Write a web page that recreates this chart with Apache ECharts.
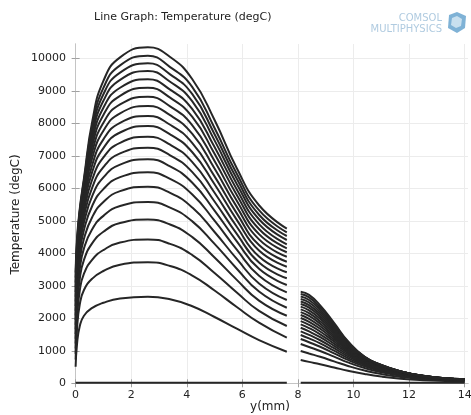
<!DOCTYPE html>
<html>
<head>
<meta charset="utf-8">
<title>Line Graph: Temperature (degC)</title>
<script src="https://cdn.jsdelivr.net/npm/echarts@6.0.0/dist/echarts.min.js"></script>
<style>
  html, body { margin: 0; padding: 0; background: #fff; }
  #chart { width: 471px; height: 415px; }
</style>
</head>
<body>
<div id="chart"></div>
<script>
// y positions (mm) where the temperature was read, left and right domain
const LEFT_X = [0, 0.05, 0.15, 0.3, 0.6, 1.0, 1.6, 2.6, 3.4, 4.2, 5.0, 5.8, 6.6, 7.6];
const RIGHT_X = [8.1, 8.4, 8.8, 9.3, 9.8, 10.4, 11, 11.7, 12.5, 13.3, 14.0];

// initial state (degC), flat over both domains
const INITIAL_LEFT = [[0, 20], [7.6, 20]];
const INITIAL_RIGHT = [[8.1, 20], [14, 20]];

// one row per time step, values at LEFT_X
const leftTemps = [
  [510, 1200, 1760, 2080, 2320, 2480, 2610, 2665, 2585, 2370, 2040, 1680, 1330, 972],
  [735, 1671, 2430, 2871, 3221, 3456, 3647, 3723, 3610, 3316, 2855, 2347, 1867, 1403],
  [906, 1982, 2855, 3372, 3808, 4101, 4332, 4425, 4290, 3945, 3396, 2793, 2227, 1763],
  [1069, 2252, 3215, 3796, 4313, 4663, 4931, 5040, 4885, 4498, 3872, 3183, 2544, 2080],
  [1224, 2487, 3517, 4151, 4747, 5152, 5455, 5578, 5405, 4982, 4289, 3526, 2824, 2326],
  [1372, 2690, 3770, 4448, 5119, 5578, 5912, 6049, 5860, 5408, 4656, 3827, 3072, 2563],
  [1520, 2880, 3998, 4715, 5464, 5976, 6342, 6492, 6287, 5809, 5002, 4110, 3307, 2800],
  [1665, 3051, 4193, 4944, 5768, 6334, 6729, 6892, 6673, 6172, 5315, 4367, 3522, 3025],
  [1805, 3201, 4357, 5135, 6032, 6650, 7073, 7249, 7016, 6498, 5595, 4597, 3716, 3231],
  [1945, 3343, 4505, 5308, 6278, 6949, 7400, 7588, 7342, 6807, 5863, 4816, 3902, 3415],
  [2088, 3479, 4642, 5467, 6513, 7238, 7717, 7917, 7659, 7109, 6123, 5030, 4084, 3588],
  [2229, 3606, 4762, 5606, 6727, 7506, 8013, 8225, 7955, 7391, 6367, 5229, 4255, 3742],
  [2375, 3732, 4877, 5739, 6938, 7773, 8308, 8532, 8249, 7674, 6611, 5429, 4428, 3895],
  [2520, 3847, 4975, 5852, 7129, 8020, 8581, 8818, 8523, 7938, 6839, 5615, 4590, 4031],
  [2666, 3959, 5064, 5955, 7310, 8257, 8846, 9095, 8789, 8195, 7060, 5797, 4748, 4154],
  [2811, 4062, 5140, 6041, 7473, 8478, 9093, 9354, 9037, 8436, 7269, 5967, 4899, 4277],
  [2959, 4163, 5209, 6119, 7632, 8693, 9336, 9609, 9280, 8673, 7474, 6134, 5047, 4409],
  [3104, 4254, 5265, 6182, 7773, 8893, 9561, 9846, 9506, 8895, 7665, 6291, 5187, 4532],
  [3252, 4345, 5316, 6239, 7910, 9088, 9783, 10080, 9730, 9114, 7855, 6446, 5326, 4646],
  [3412, 4445, 5376, 6306, 8064, 9304, 10028, 10338, 10040, 9356, 8100, 6616, 5479, 4760]
];

// same time steps, values at RIGHT_X
const rightTemps = [
  [717, 660, 588, 488, 387, 287, 208, 143, 97, 72, 57],
  [994, 917, 817, 675, 533, 392, 284, 195, 131, 97, 77],
  [1209, 1118, 995, 820, 643, 470, 339, 233, 156, 115, 92],
  [1363, 1264, 1124, 922, 719, 521, 376, 257, 172, 126, 100],
  [1486, 1381, 1228, 1004, 777, 560, 403, 275, 183, 133, 106],
  [1600, 1491, 1325, 1080, 830, 594, 426, 291, 193, 139, 111],
  [1710, 1597, 1418, 1152, 880, 625, 447, 304, 201, 144, 115],
  [1815, 1700, 1508, 1221, 927, 652, 466, 316, 208, 148, 118],
  [1915, 1798, 1594, 1286, 970, 677, 483, 327, 214, 151, 121],
  [2010, 1892, 1677, 1348, 1009, 699, 497, 335, 219, 153, 123],
  [2100, 1982, 1755, 1406, 1046, 718, 509, 343, 223, 155, 124],
  [2190, 2072, 1834, 1464, 1081, 737, 521, 349, 226, 156, 124],
  [2275, 2158, 1909, 1518, 1114, 752, 531, 354, 228, 156, 124],
  [2360, 2244, 1984, 1572, 1145, 766, 539, 359, 230, 155, 124],
  [2440, 2326, 2055, 1623, 1174, 778, 546, 362, 231, 154, 123],
  [2520, 2408, 2126, 1674, 1202, 789, 552, 365, 231, 152, 122],
  [2595, 2486, 2194, 1721, 1226, 798, 556, 366, 230, 150, 120],
  [2670, 2564, 2261, 1768, 1251, 805, 559, 367, 229, 148, 118],
  [2745, 2642, 2329, 1815, 1274, 812, 562, 367, 228, 144, 116],
  [2818, 2719, 2395, 1860, 1296, 817, 564, 366, 225, 141, 113]
];

const xTicks = [0, 2, 4, 6, 8, 10, 12, 14];
const yTicks = [0, 1000, 2000, 3000, 4000, 5000, 6000, 7000, 8000, 9000, 10000];

const LINE_COLOR = '#262626';
const FONT = 'DejaVu Sans';

let myChart = echarts.init(document.getElementById('chart'));

let series = [];
function addLine(points) {
  series.push({
    type: 'line',
    data: points,
    showSymbol: false,
    smooth: 0.5,
    silent: true,
    lineStyle: { color: LINE_COLOR, width: 2 }
  });
}
leftTemps.forEach(function (row) {
  addLine(LEFT_X.map(function (x, k) { return [x, row[k]]; }));
});
rightTemps.forEach(function (row) {
  addLine(RIGHT_X.map(function (x, k) { return [x, row[k]]; }));
});
addLine(INITIAL_LEFT);
addLine(INITIAL_RIGHT);

const frameLine = { show: true, lineStyle: { color: '#c4c4c4', width: 1 } };
const innerTick = { show: true, inside: true, length: 4, lineStyle: { color: '#a0a0a0' } };
const plainNumber = function (v) { return String(v); };

let option = {
  animation: false,
  backgroundColor: '#fff',
  title: {
    text: 'Line Graph: Temperature (degC)',
    left: 89,
    top: 7,
    textStyle: { fontFamily: FONT, fontSize: 11, fontWeight: 'normal', color: '#222' }
  },
  graphic: [
    {
      type: 'text', right: 29, top: 13,
      style: { text: 'COMSOL', fontFamily: FONT, fontSize: 10, fill: '#b0cbe0' }
    },
    {
      type: 'text', right: 29, top: 24,
      style: { text: 'MULTIPHYSICS', fontFamily: FONT, fontSize: 10, fill: '#b0cbe0' }
    },
    {
      type: 'polygon',
      shape: { points: [[449, 15], [457, 12], [466, 16], [465, 28], [457, 33], [448, 28]] },
      style: { fill: '#7fb2d6' }
    },
    {
      type: 'polygon',
      shape: { points: [[452, 18], [457, 16], [462, 19], [461, 26], [456, 28], [451, 25]] },
      style: { fill: '#c9e0ef' }
    }
  ],
  grid: { left: 72, top: 44, right: 3, bottom: 30, containLabel: false, outerBoundsMode: 'none' },
  xAxis: [
    {
      type: 'value',
      min: -0.13,
      max: 14.12,
      name: 'y(mm)',
      nameLocation: 'middle',
      nameGap: 16,
      nameMoveOverlap: false,
      nameTextStyle: { fontFamily: FONT, fontSize: 12, color: '#222', verticalAlign: 'top' },
      axisLine: frameLine,
      axisTick: Object.assign({ customValues: xTicks }, innerTick),
      axisLabel: {
        customValues: xTicks, margin: 5,
        fontFamily: FONT, fontSize: 11, color: '#222', formatter: plainNumber
      },
      splitLine: { show: true, lineStyle: { color: '#ececec' } }
    },
    {
      type: 'value',
      position: 'top',
      min: -0.13,
      max: 14.12,
      axisLine: frameLine,
      axisTick: Object.assign({ customValues: xTicks }, innerTick),
      axisLabel: { show: false },
      splitLine: { show: false }
    }
  ],
  yAxis: [
    {
      type: 'value',
      min: -52,
      max: 10440,
      name: 'Temperature (degC)',
      nameLocation: 'middle',
      nameGap: 50,
      nameMoveOverlap: false,
      nameTextStyle: { fontFamily: FONT, fontSize: 12, color: '#222' },
      axisLine: frameLine,
      axisTick: Object.assign({ customValues: yTicks }, innerTick),
      axisLabel: {
        customValues: yTicks, margin: 6,
        fontFamily: FONT, fontSize: 11, color: '#222', formatter: plainNumber
      },
      splitLine: { show: true, lineStyle: { color: '#ececec' } }
    },
    {
      type: 'value',
      position: 'right',
      min: -52,
      max: 10440,
      axisLine: frameLine,
      axisTick: Object.assign({ customValues: yTicks }, innerTick),
      axisLabel: { show: false },
      splitLine: { show: false }
    }
  ],
  series: series
};

myChart.setOption(option);
</script>
</body>
</html>
